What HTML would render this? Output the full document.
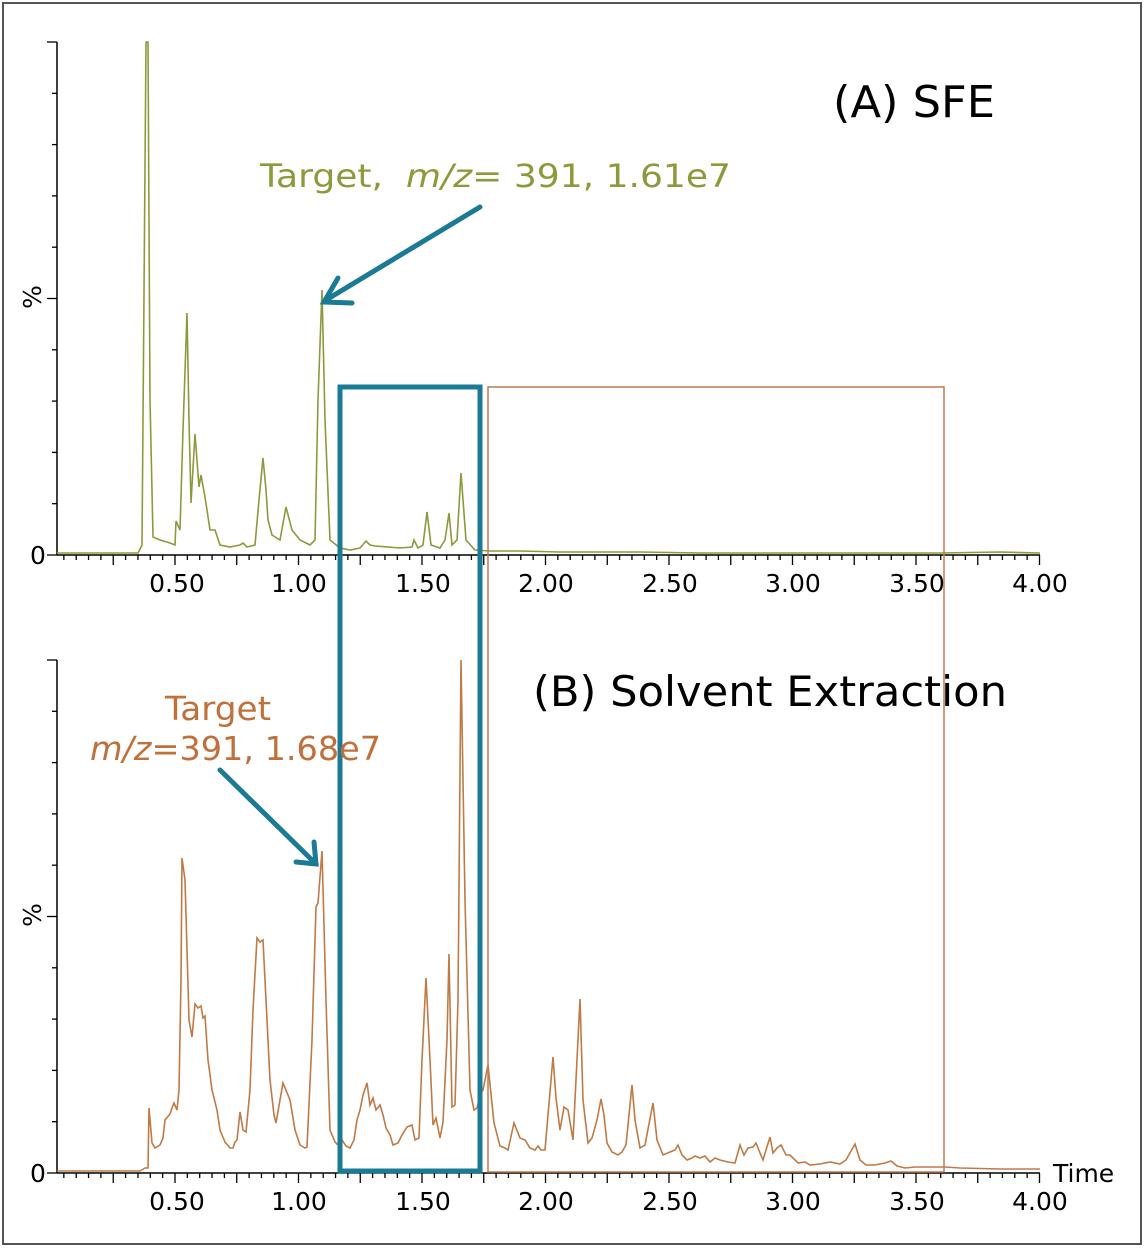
<!DOCTYPE html>
<html><head><meta charset="utf-8"><style>
html,body{margin:0;padding:0;background:#fff;}
svg{display:block;font-family:"DejaVu Sans","Liberation Sans",sans-serif;}
</style></head><body>
<svg id="s" width="1146" height="1248" viewBox="0 0 1146 1248" xmlns="http://www.w3.org/2000/svg">
<rect x="3" y="3" width="1138" height="1241" fill="#fff" stroke="#555" stroke-width="2"/>
<g id="axes" stroke="#000" stroke-width="1.5" fill="none">
<line x1="57" y1="42" x2="57" y2="555"/><line x1="57" y1="555" x2="1040" y2="555"/>
<line x1="57" y1="660" x2="57" y2="1173"/><line x1="57" y1="1173" x2="1040" y2="1173"/>
</g>
<polyline fill="none" stroke="#8c9a3c" stroke-width="1.6" points="57,553 100,553 138,553 142,545 146,42 148,42 150,400 153,537 160,540 170,543 175,545 176,521 180,530 183,430 187,313 189,420 191,503 195,434 199,487 201,475 205,497 210,530 215,530 220,545 230,547 240,545 243,543 247,547 255,545 259,500 263,458 266,490 268,520 272,535 280,540 286,507 292,530 300,540 310,545 315,540 318,400 322,290 325,420 330,540 340,548 350,550 360,548 366,541 370,545 375,546 400,548 412,547 414,540 418,548 423,545 427,512 431,545 440,548 445,540 449,513 452,545 457,540 461,473 466,540 475,550 490,551 520,551 560,552 600,552 640,552 700,553 760,553 820,553 880,553 940,553 1000,552 1040,553"/>
<polyline fill="none" stroke="#c07a45" stroke-width="1.6" points="57,1171 140,1171 145,1168 148,1168 149,1108 152,1143 155,1148 160,1145 163,1138 165,1120 170,1114 172,1108 174,1103 177,1110 179,1090 181,980 182,858 185,880 189,1020 192,1037 195,1004 198,1008 201,1006 203,1018 205,1016 208,1060 212,1090 217,1110 220,1130 225,1142 230,1148 233,1148 235,1142 237,1140 240,1112 243,1130 246,1132 250,1090 253,1010 257,938 260,942 263,940 265,980 270,1080 274,1115 276,1123 280,1100 283,1083 290,1100 295,1130 300,1145 305,1148 307,1147 312,1040 316,907 318,903 322,851 326,1000 330,1130 335,1142 338,1145 342,1140 346,1146 350,1148 354,1140 357,1120 360,1110 363,1095 367,1083 370,1105 373,1098 376,1110 380,1105 383,1115 386,1128 390,1135 393,1145 398,1143 402,1135 407,1127 412,1125 415,1140 419,1138 422,1060 426,978 430,1060 433,1125 436,1118 440,1138 443,1122 447,1040 449,954 452,1107 455,1105 458,1000 461,660 465,900 470,1090 474,1110 477,1108 480,1095 483,1090 488,1065 494,1123 500,1146 505,1148 508,1150 514,1123 520,1138 525,1140 530,1148 535,1150 538,1146 541,1150 545,1150 553,1057 556,1098 560,1130 564,1107 568,1110 573,1140 580,999 583,1100 588,1143 592,1138 597,1120 601,1099 604,1115 607,1143 612,1152 618,1155 622,1152 626,1145 632,1085 635,1120 640,1148 645,1145 653,1103 657,1140 663,1155 670,1152 675,1150 678,1145 682,1155 687,1160 692,1158 695,1156 700,1158 705,1156 710,1162 715,1158 720,1160 728,1162 735,1163 740,1145 744,1155 748,1148 753,1147 756,1143 760,1153 763,1160 766,1150 770,1137 773,1153 777,1148 781,1145 786,1155 790,1155 798,1163 805,1162 810,1165 820,1164 830,1162 840,1164 846,1160 855,1144 860,1160 866,1165 875,1165 885,1163 891,1161 897,1166 905,1168 915,1167 930,1167 945,1167 960,1168 1000,1169 1040,1169"/>
<rect x="340" y="387" width="140" height="784" fill="none" stroke="#1b7a96" stroke-width="5"/>
<rect x="488" y="387" width="456" height="785" fill="none" stroke="#c07a50" stroke-width="1.5"/>
<g stroke="#1b7a96" stroke-width="5" fill="none" stroke-linecap="round">
<line x1="480" y1="207" x2="326" y2="300"/><polyline points="338,278 324,302 352,303"/>
<line x1="220" y1="770" x2="314" y2="862"/><polyline points="296,862 316,864 314,842"/>
</g>
<g font-size="25" fill="#000" text-anchor="middle">
<text x="177" y="592">0.50</text><text x="299" y="592">1.00</text><text x="423" y="592">1.50</text><text x="546" y="592">2.00</text><text x="670" y="592">2.50</text><text x="793" y="592">3.00</text><text x="917" y="592">3.50</text><text x="1040" y="592">4.00</text>
<text x="177" y="1210">0.50</text><text x="299" y="1210">1.00</text><text x="423" y="1210">1.50</text><text x="546" y="1210">2.00</text><text x="670" y="1210">2.50</text><text x="793" y="1210">3.00</text><text x="917" y="1210">3.50</text><text x="1040" y="1210">4.00</text>
<text x="38" y="564">0</text><text x="38" y="1182">0</text>
</g>
<text x="1053" y="1182" font-size="25">Time</text>
<text transform="translate(41,297) rotate(-90)" font-size="25" text-anchor="middle">%</text>
<text transform="translate(41,915) rotate(-90)" font-size="25" text-anchor="middle">%</text>
<text x="833" y="117" font-size="44" textLength="162" lengthAdjust="spacingAndGlyphs">(A) SFE</text>
<text x="533" y="706" font-size="42" textLength="474" lengthAdjust="spacingAndGlyphs">(B) Solvent Extraction</text>
<text x="260" y="187" font-size="32" fill="#8c9a3c" xml:space="preserve" textLength="471" lengthAdjust="spacingAndGlyphs">Target,  <tspan font-style="italic">m/z</tspan>= 391, 1.61e7</text>
<text x="165" y="720" font-size="33" fill="#c0703a" textLength="106" lengthAdjust="spacingAndGlyphs">Target</text>
<text x="90" y="760" font-size="33" fill="#c0703a" textLength="291" lengthAdjust="spacingAndGlyphs"><tspan font-style="italic">m/z</tspan>=391, 1.68e7</text>
<g id="ticks" stroke="#000" stroke-width="1.3"></g>
</svg>
<script>
var g=document.getElementById('ticks'),h='';
for(var i=1;i<=80;i++){var x=51.5+i*12.35;var L=(i%5==0)?10:5;
h+='<line x1="'+x+'" y1="555" x2="'+x+'" y2="'+(555+L)+'"/>';
h+='<line x1="'+x+'" y1="1173" x2="'+x+'" y2="'+(1173+L)+'"/>';}
for(var j=0;j<=10;j++){var L2=(j%5==0)?10:5;var y1=555-j*51.3,y2=1173-j*51.3;
h+='<line x1="'+(57-L2)+'" y1="'+y1+'" x2="57" y2="'+y1+'"/>';
h+='<line x1="'+(57-L2)+'" y1="'+y2+'" x2="57" y2="'+y2+'"/>';}
g.innerHTML=h;
</script>
</body></html>
